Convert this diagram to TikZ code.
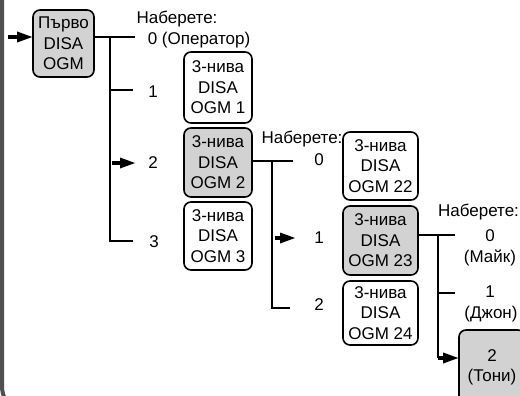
\documentclass[tikz,border=0pt]{standalone}
\usepackage{fontspec}
\setmainfont{Liberation Sans}
\usetikzlibrary{arrows.meta}
\definecolor{boxgray}{HTML}{D2D2D2}
\definecolor{framegray}{HTML}{505050}
\begin{document}
\begin{tikzpicture}[x=1pt,y=-1pt,
  font=\fontsize{17}{20.5}\selectfont,
  menubox/.style={draw, line width=1.6pt, rounded corners=7pt, align=center, inner sep=0pt, minimum height=68pt},
  graybox/.style={menubox, fill=boxgray},
  lbl/.style={anchor=base, inner sep=0pt},
  wire/.style={line width=1.2pt},
  bigarrow/.style={line width=4.5pt, -{Triangle[length=15pt,width=11pt,line width=0pt]}},
]
\useasboundingbox (0,0) rectangle (520,396);
\clip (0,0) rectangle (520,396);

% left frame edge
\draw[framegray, line width=4pt, rounded corners=30pt] (2,-5) -- (2,416) -- (60,416);

% boxes
\node[graybox, minimum width=61pt, minimum height=67pt] (first) at (63.5,43.5) {Първо\\DISA\\OGM};
\node[menubox, minimum width=68pt, minimum height=71pt] (ogm1) at (218,87.5) {3-нива\\DISA\\OGM 1};
\node[graybox, minimum width=68pt, minimum height=69pt] (ogm2) at (218,162.5) {3-нива\\DISA\\OGM 2};
\node[menubox, minimum width=68pt] (ogm3) at (218,236) {3-нива\\DISA\\OGM 3};
\node[menubox, minimum width=75pt] (ogm22) at (380.5,166) {3-нива\\DISA\\OGM 22};
\node[graybox, minimum width=75pt, minimum height=69pt] (ogm23) at (380.5,240.5) {3-нива\\DISA\\OGM 23};
\node[menubox, minimum width=75pt, minimum height=64pt] (ogm24) at (380.5,313) {3-нива\\DISA\\OGM 24};
\node[graybox, minimum width=66pt, minimum height=75pt] (toni) at (492,367.5) {2\\(Тони)};

% input arrow
\coordinate (in) at (8,37);
\draw[bigarrow] (in) -- (in -| first.west);

% tree 1
\coordinate (t1) at (110,37);
\coordinate (t1e0) at (135,37);
\coordinate (t1b1) at (110,90);
\coordinate (t1e1) at (133,90);
\coordinate (t1b2) at (112,163);
\coordinate (t1e2) at (135,163);
\coordinate (t1b3) at (110,241);
\coordinate (t1e3) at (133,241);
\draw[wire] (t1 -| first.east) -- (t1e0);
\draw[wire] (t1) -- (t1b3) -- (t1e3);
\draw[wire] (t1b1) -- (t1e1);
\draw[bigarrow] (t1b2) -- (t1e2);
\node[lbl] (dial1) at (177,23.5) {Наберете:};
\node[lbl] (op) at (199,45) {0 (Оператор)};
\node[lbl] (k1) at (153,98) {1};
\node[lbl] (k2) at (153,168) {2};
\node[lbl] (k3) at (154,247) {3};

% tree 2
\coordinate (t2) at (272,161);
\coordinate (t2e0) at (293,161);
\coordinate (t2b1) at (275,238);
\coordinate (t2e1) at (295,238);
\coordinate (t2b2) at (272,308);
\coordinate (t2e2) at (290,308);
\draw[wire] (t2 -| ogm2.east) -- (t2e0);
\draw[wire] (t2) -- (t2b2) -- (t2e2);
\draw[bigarrow] (t2b1) -- (t2e1);
\node[lbl] (dial2) at (302,143.5) {Наберете:};
\node[lbl] (m0) at (319,165) {0};
\node[lbl] (m1) at (319,243) {1};
\node[lbl] (m2) at (319,310) {2};

% tree 3
\coordinate (t3) at (438,235);
\coordinate (t3e0) at (455,235);
\coordinate (t3b1) at (438,293);
\coordinate (t3e1) at (455,293);
\coordinate (t3b2) at (438,358);
\draw[wire] (t3 -| ogm23.east) -- (t3e0);
\draw[wire] (t3) -- (t3b2);
\draw[wire] (t3b1) -- (t3e1);
\draw[bigarrow] (t3b2) -- (t3b2 -| toni.west);
\node[lbl] (dial3) at (478.5,216) {Наберете:};
\node[lbl] (n0) at (490,241) {0};
\node[lbl] (n0b) at (490,262.5) {(Майк)};
\node[lbl] (n1) at (490,297.5) {1};
\node[lbl] (n1b) at (491,318) {(Джон)};
\end{tikzpicture}
\end{document}
